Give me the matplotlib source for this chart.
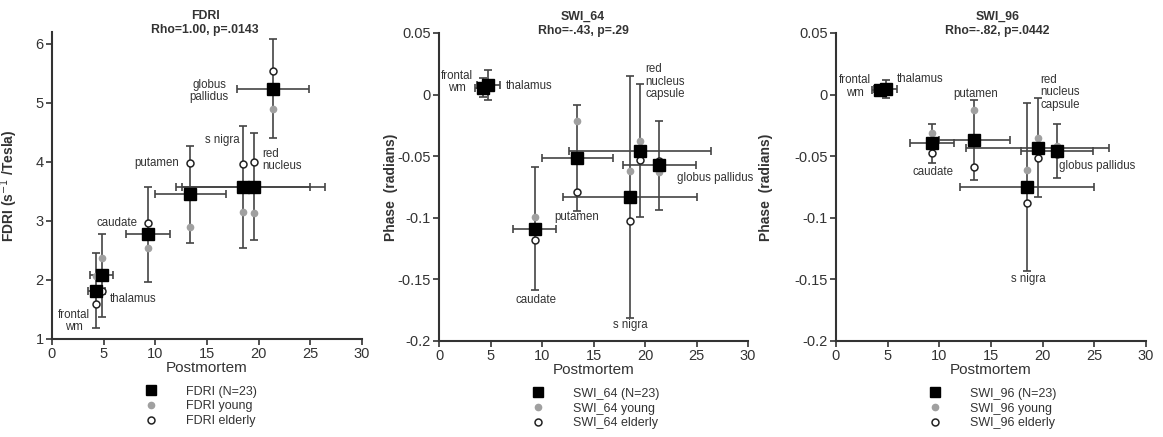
import numpy as np
import matplotlib
matplotlib.use('Agg')
import matplotlib.pyplot as plt
from matplotlib.lines import Line2D

plt.rcParams['font.family'] = ['Liberation Sans', 'DejaVu Sans']

# Regions and postmortem values (mean +/- sd)
regions = ['frontal wm', 'thalamus', 'caudate', 'putamen', 's nigra', 'red nucleus', 'globus pallidus']
postmortem = [4.3, 4.8, 9.3, 13.4, 18.5, 19.5, 21.4]
postmortem_err = [0.85, 1.1, 2.1, 3.45, 6.5, 6.9, 3.5]

# FDRI
fdri_mean = [1.82, 2.08, 2.77, 3.45, 3.57, 3.58, 5.24]
fdri_err = [0.64, 0.70, 0.80, 0.82, 1.03, 0.91, 0.84]
fdri_young = [2.07, 2.38, 2.54, 2.89, 3.15, 3.14, 4.90]
fdri_elderly = [1.59, 1.81, 2.97, 3.98, 3.96, 3.99, 5.54]

# SWI_64
swi64_mean = [0.0056, 0.0078, -0.109, -0.0512, -0.0830, -0.0455, -0.0573]
swi64_err = [0.0075, 0.012, 0.050, 0.043, 0.098, 0.054, 0.036]
swi64_young = [0.004, 0.006, -0.099, -0.0214, -0.0618, -0.0374, -0.0626]
swi64_elderly = [0.006, 0.009, -0.1183, -0.0788, -0.1023, -0.0531, -0.0536]

# SWI_96
swi96_mean = [0.0037, 0.0043, -0.0395, -0.0368, -0.0752, -0.0431, -0.0458]
swi96_err = [0.004, 0.0074, 0.016, 0.0325, 0.068, 0.040, 0.022]
swi96_young = [0.003, 0.004, -0.0314, -0.0125, -0.0612, -0.0355, -0.0417]
swi96_elderly = [0.004, 0.005, -0.0471, -0.059, -0.0877, -0.0517, -0.0482]

titles = ['FDRI\nRho=1.00, p=.0143', 'SWI_64\nRho=-.43, p=.29', 'SWI_96\nRho=-.82, p=.0442']
names = ['FDRI', 'SWI_64', 'SWI_96']
fdri_ticks = [1, 2, 3, 4, 5, 6]
fdri_ticklabels = ['1', '2', '3', '4', '5', '6']
phase_ticks = [0.05, 0, -0.05, -0.1, -0.15, -0.2]
phase_ticklabels = ['0.05', '0', '-0.05', '-0.1', '-0.15', '-0.2']
x_ticks = [0, 5, 10, 15, 20, 25, 30]

# label placement per panel: text, x, y, ha
labels_fdri = [('frontal\nwm', 2.1, 1.3, 'center'), ('thalamus', 5.6, 1.67, 'left'),
               ('caudate', 8.3, 2.97, 'right'), ('putamen', 12.3, 3.98, 'right'),
               ('s nigra', 18.2, 4.37, 'right'), ('red\nnucleus', 20.3, 4.03, 'left'),
               ('globus\npallidus', 15.2, 5.2, 'center')]
labels_64 = [('frontal\nwm', 1.75, 0.0102, 'center'), ('thalamus', 6.5, 0.007, 'left'),
             ('red\nnucleus\ncapsule', 20.05, 0.0105, 'left'), ('globus pallidus', 23.1, -0.0675, 'left'),
             ('putamen', 11.2, -0.0996, 'left'), ('caudate', 9.4, -0.167, 'center'),
             ('s nigra', 18.6, -0.187, 'center')]
labels_96 = [('frontal\nwm', 1.84, 0.0064, 'center'), ('thalamus', 5.87, 0.0127, 'left'),
             ('putamen', 13.55, 0.0002, 'center'), ('red\nnucleus\ncapsule', 19.8, 0.0019, 'left'),
             ('caudate', 9.4, -0.0626, 'center'), ('globus pallidus', 21.6, -0.058, 'left'),
             ('s nigra', 18.6, -0.1497, 'center')]

fig = plt.figure(figsize=(11.63, 4.37), dpi=100)
ax1 = fig.add_axes([0.0447, 0.2243, 0.2666, 0.7025])
ax2 = fig.add_axes([0.3775, 0.2197, 0.2657, 0.7048])
ax3 = fig.add_axes([0.7188, 0.2197, 0.2666, 0.7048])

panels = [
    (ax1, fdri_mean, fdri_err, fdri_young, fdri_elderly, labels_fdri, 0.494, -0.103),
    (ax2, swi64_mean, swi64_err, swi64_young, swi64_elderly, labels_64, 0.466, -0.133),
    (ax3, swi96_mean, swi96_err, swi96_young, swi96_elderly, labels_96, 0.52, -0.203),
]

ecol = '#444444'
txtcol = '#333333'

for i, (ax, mean, err, young, elderly, labs, tx, ylx) in enumerate(panels):
    ax.errorbar(postmortem, mean, xerr=postmortem_err, yerr=err, fmt='none',
                ecolor=ecol, elinewidth=1.2, capsize=3, capthick=1.2, zorder=1)
    ax.plot(postmortem, young, 'o', color='#a0a0a0', ms=4.5, mec='#a0a0a0', zorder=2)
    ax.plot(postmortem, elderly, 'o', color='white', ms=5, mec='#222222', mew=1.1, zorder=3)
    ax.plot(postmortem, mean, 's', color='black', ms=8, zorder=4)

    for t, lx, ly, ha in labs:
        ax.text(lx, ly, t, ha=ha, va='center', fontsize=8.3, color=txtcol,
                linespacing=1.05, multialignment=ha if ha != 'center' else 'center')

    ax.set_xlim(0, 30)
    ax.set_xticks(x_ticks)
    if i == 0:
        ax.set_ylim(1, 6.2)
        ax.set_yticks(fdri_ticks)
        ax.set_yticklabels(fdri_ticklabels)
        ax.set_ylabel('FDRI (s$^{-1}$ /Tesla)', fontsize=10, fontweight='bold', color=txtcol)
    else:
        ax.set_ylim(-0.2, 0.05)
        ax.set_yticks(phase_ticks)
        ax.set_yticklabels(phase_ticklabels)
        ax.set_ylabel('Phase  (radians)', fontsize=10, fontweight='bold', color=txtcol)
    ax.yaxis.set_label_coords(ylx, 0.5)
    ax.set_xlabel('Postmortem', fontsize=11, color=txtcol, labelpad=0)

    ax.spines['top'].set_visible(False)
    ax.spines['right'].set_visible(False)
    for s in ['left', 'bottom']:
        ax.spines[s].set_color('#333333')
        ax.spines[s].set_linewidth(1.5)
    ax.tick_params(direction='out', length=4, width=1.2, color='#333333',
                   labelsize=10.5, labelcolor=txtcol, pad=2)

    # fixed y so matplotlib does not auto-shift the title
    ax.set_title(titles[i], fontsize=8.8, fontweight='bold', color=txtcol,
                 x=tx, y=1.0, pad=-1, linespacing=1.25)

    handles = [Line2D([], [], ls='none', marker='s', color='black', ms=7),
               Line2D([], [], ls='none', marker='o', color='#a0a0a0', ms=4.5),
               Line2D([], [], ls='none', marker='o', mfc='white', mec='#222222', mew=1.1, ms=5)]
    leg_labels = [names[i] + ' (N=23)', names[i] + ' young', names[i] + ' elderly']
    ax.legend(handles, leg_labels, loc='upper left', bbox_to_anchor=(0.3, -0.152),
              frameon=False, fontsize=9, handlelength=1.0, handletextpad=2.3,
              labelspacing=0.22, borderpad=0, borderaxespad=0,
              labelcolor=txtcol)

fig.savefig('out.png', dpi=100)
